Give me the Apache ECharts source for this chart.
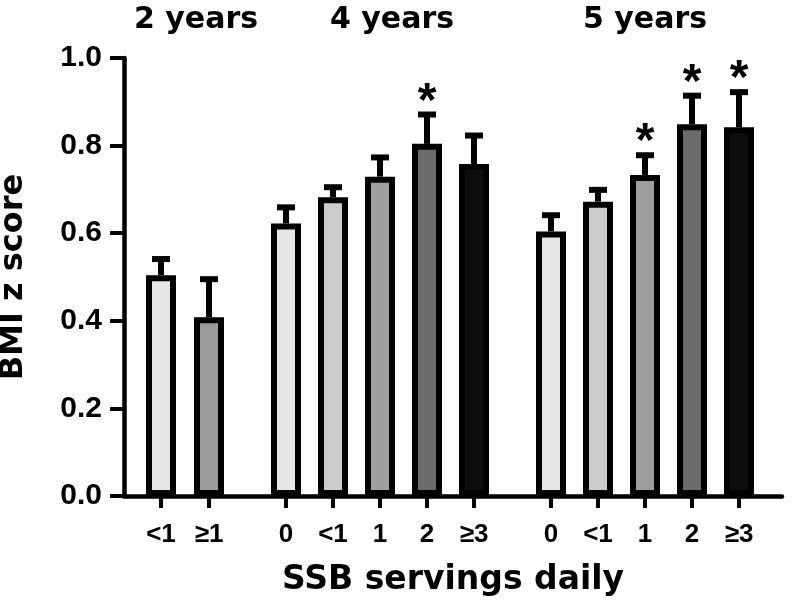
<!DOCTYPE html>
<html>
<head>
<meta charset="utf-8">
<script src="https://cdn.jsdelivr.net/npm/echarts@6/dist/echarts.min.js"></script>
<style>html,body{margin:0;padding:0;background:#fff}#c{width:792px;height:616px}</style>
</head>
<body>
<div id="c"></div>
<script>
// ---- data ----
const groupTitles = ['2 years', '4 years', '5 years'];
const cats2 = ['<1', '≥1'];
const cats4 = ['0', '<1', '1', '2', '≥3'];
const cats5 = ['0', '<1', '1', '2', '≥3'];
const means2 = [0.504, 0.408];
const means4 = [0.622, 0.682, 0.729, 0.804, 0.758];
const means5 = [0.604, 0.672, 0.733, 0.849, 0.842];
const sem2 = [0.037, 0.087];
const sem4 = [0.037, 0.023, 0.044, 0.067, 0.065];
const sem5 = [0.037, 0.027, 0.045, 0.065, 0.080];
const stars2 = [0, 0];
const stars4 = [0, 0, 0, 1, 0];
const stars5 = [0, 0, 1, 1, 1];
const yTicks = [0, 0.2, 0.4, 0.6, 0.8, 1.0];

// ---- style ----
const FONT = '"Liberation Sans", Arial, sans-serif';
const WFONT = '"DejaVu Sans", "Liberation Sans", sans-serif';
const colors2 = ['#e6e6e6', '#9b9b9b'];
const colors5 = ['#e6e6e6', '#cccccc', '#9e9e9e', '#6b6b6b', '#0d0d0d'];

const chart = echarts.init(document.getElementById('c'), null, {renderer: 'canvas'});

function errRender(params, api) {
  const x = api.value(0), m = api.value(1), e = api.value(2), s = api.value(3);
  const p0 = api.coord([x, m]);
  const p1 = api.coord([x, m + e]);
  const children = [
    {type: 'line', shape: {x1: p0[0], y1: p0[1], x2: p1[0], y2: p1[1]}, style: {stroke: '#000', lineWidth: 6}},
    {type: 'line', shape: {x1: p1[0] - 9, y1: p1[1], x2: p1[0] + 9, y2: p1[1]}, style: {stroke: '#000', lineWidth: 6}}
  ];
  if (s) {
    children.push({type: 'text', style: {text: '*', x: p1[0], y: p1[1] - 12, align: 'center', verticalAlign: 'middle',
      font: 'bold 48px ' + FONT, fill: '#000'}});
  }
  return {type: 'group', children: children};
}

const gridBase = {top: 58, bottom: 120, containLabel: false, outerBoundsMode: 'none'};
const grids = [
  Object.assign({left: 124, right: 10}, gridBase),
  Object.assign({left: 137, width: 96}, gridBase),
  Object.assign({left: 262.5, width: 235}, gridBase),
  Object.assign({left: 527.5, width: 235}, gridBase)
];

const catSets = [cats2, cats4, cats5];
const meanSets = [means2, means4, means5];
const semSets = [sem2, sem4, sem5];
const starSets = [stars2, stars4, stars5];
const colorSets = [colors2, colors5, colors5];

const xAxes = [{
  gridIndex: 0, type: 'value', min: 0, max: 1,
  axisLine: {show: true, lineStyle: {color: '#000', width: 4.5}},
  axisTick: {show: false}, axisLabel: {show: false}, splitLine: {show: false},
  name: 'SSB servings daily', nameLocation: 'middle', nameGap: 68,
  nameTextStyle: {fontFamily: WFONT, fontWeight: 'bold', fontSize: 33, color: '#000'}
}];
const yAxes = [{
  gridIndex: 0, type: 'value', min: 0, max: 1, interval: 0.2,
  axisLine: {show: true, lineStyle: {color: '#000', width: 4.5}},
  axisTick: {show: true, length: 14, lineStyle: {color: '#000', width: 4}},
  axisLabel: {margin: 22, fontFamily: FONT, fontWeight: 'bold', fontSize: 30, color: '#000',
    formatter: v => v.toFixed(1)},
  splitLine: {show: false},
  name: 'BMI z score', nameLocation: 'middle', nameGap: 94,
  nameTextStyle: {fontFamily: WFONT, fontWeight: 'bold', fontSize: 32, color: '#000'}
}];
const series = [];
for (let g = 0; g < 3; g++) {
  xAxes.push({
    gridIndex: g + 1, type: 'category', data: catSets[g],
    axisLine: {show: false},
    axisTick: {show: true, alignWithLabel: true, length: 12, lineStyle: {color: '#000', width: 4}},
    axisLabel: {margin: 26, fontFamily: FONT, fontWeight: 'bold', fontSize: 26, color: '#000'}
  });
  yAxes.push({gridIndex: g + 1, type: 'value', min: 0, max: 1, show: false});
  series.push({
    type: 'bar', xAxisIndex: g + 1, yAxisIndex: g + 1, barWidth: 30,
    data: meanSets[g].map((v, i) => ({value: v, itemStyle: {color: colorSets[g][i]}})),
    itemStyle: {borderColor: '#000', borderWidth: 6},
    emphasis: {disabled: true}, animation: false
  });
  series.push({
    type: 'custom', xAxisIndex: g + 1, yAxisIndex: g + 1, renderItem: errRender,
    encode: {x: 0, y: 1},
    data: meanSets[g].map((v, i) => [i, v, semSets[g][i], starSets[g][i]]),
    z: 3, animation: false
  });
}

const titleX = [191, 387, 640];
chart.setOption({
  animation: false,
  title: groupTitles.map((t, i) => ({
    text: t, left: titleX[i], top: 0, textAlign: 'center',
    textStyle: {fontFamily: WFONT, fontWeight: 'bold', fontSize: 30, color: '#000'}
  })),
  grid: grids,
  xAxis: xAxes,
  yAxis: yAxes,
  series: series
});
</script>
</body>
</html>
